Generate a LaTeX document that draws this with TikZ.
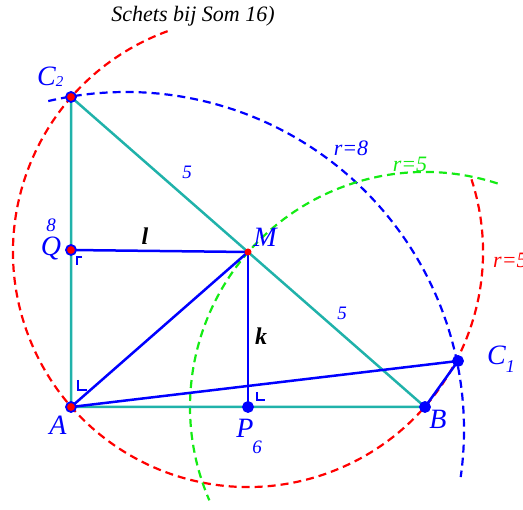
\documentclass[tikz,border=0pt]{standalone}
\usepackage{fontspec}
\setmainfont{Liberation Serif}
\definecolor{tealc}{RGB}{32,178,170}
\definecolor{grn}{RGB}{20,235,20}
\definecolor{blu}{RGB}{0,0,255}
\definecolor{rd}{RGB}{255,0,0}
\tikzset{
  dashc/.style={line width=2.2pt, dash pattern=on 8pt off 5pt},
  tealline/.style={draw=tealc, line width=2.5pt},
  blueline/.style={draw=blu, line width=2.5pt},
  anglemark/.style={draw=blu, line width=2pt},
  ptlab/.style={text=blu, font=\fontsize{28}{28}\selectfont\itshape, inner sep=0pt},
  numlab/.style={text=blu, font=\fontsize{19}{19}\selectfont\itshape, inner sep=0pt},
  seglab/.style={text=black, font=\fontsize{24}{24}\selectfont\bfseries\itshape, inner sep=0pt},
  rlab/.style={font=\fontsize{22}{22}\selectfont\itshape, inner sep=0pt},
  ptred/.style={circle, draw=blu, fill=rd, line width=1.8pt, minimum size=10pt, inner sep=0pt},
  ptblue/.style={circle, draw=blu, fill=blu, line width=1.8pt, minimum size=10pt, inner sep=0pt},
  ptm/.style={circle, fill=rd, minimum size=7pt, inner sep=0pt},
}
\begin{document}
\begin{tikzpicture}[x=1pt,y=-1pt]
\useasboundingbox (0,0) rectangle (523,510);
\clip (0,0) rectangle (523,510);
% points
\coordinate (A) at (71,407);
\coordinate (B) at (425,407);
\coordinate (C2) at (71,97);
\coordinate (M) at (248,252);
\coordinate (Q) at (71,250);
\coordinate (P) at (248,407);
\coordinate (C1) at (458,361);
\coordinate (O8) at (126,430);
% dashed circles
\draw[dashc, rd] (M) ++(-110:235) arc[start angle=-110, end angle=-378, radius=235];
\draw[dashc, blu] (O8) ++(-103.3:338) arc[start angle=-103.3, end angle=8, radius=338];
\draw[dashc, grn] (B) ++(-72:235) arc[start angle=-72, end angle=-203.4, radius=235];
% triangle
\draw[tealline] (A) -- (C2) -- (B) -- cycle;
% blue segments
\draw[blueline] (Q) -- (M);
\draw[blueline] (M) -- (P);
\draw[blueline] (A) -- (M);
\draw[blueline] (A) -- (C1);
\draw[blueline] (B) -- (C1);
% right angle marks
\draw[anglemark] (78,380) -- (78,390) -- (87,390);
\draw[anglemark] (257,392) -- (257,400) -- (265,400);
\draw[anglemark] (82,257) -- (77,257) -- (77,265);
% point markers
\node[ptred] (dA) at (A) {};
\node[ptred] (dC2) at (C2) {};
\node[ptred] (dQ) at (Q) {};
\node[ptblue] (dB) at (B) {};
\node[ptblue] (dC1) at (C1) {};
\node[ptblue] (dP) at (P) {};
\node[ptm] (dM) at (M) {};
% labels
\node[font=\fontsize{22}{22}\selectfont\itshape, inner sep=0pt] (title) at (193,16) {Schets bij Som 16)};
\node[ptlab, anchor=base west] (lC2) at (37,86) {C\raisebox{-1pt}{\fontsize{15}{15}\selectfont 2}};
\node[ptlab] (lQ) at (51,249) {Q};
\node[ptlab] (lM) at (265,237) {M};
\node[ptlab] (lA) at (58,425) {A};
\node[ptlab] (lB) at (438,419) {B};
\node[ptlab] (lP) at (245,428) {P};
\node[ptlab, anchor=base west] (lC1) at (487,365) {C\raisebox{-8pt}{\fontsize{18}{18}\selectfont 1}};
\node[numlab] (n8) at (51,225) {8};
\node[numlab] (n5a) at (187,172) {5};
\node[numlab] (n5b) at (342,313) {5};
\node[numlab] (n6) at (257,447) {6};
\node[seglab] (sl) at (145,236) {l};
\node[seglab] (sk) at (261,336) {k};
\node[rlab, text=blu] (r8) at (351,148) {r=8};
\node[rlab, text=grn] (r5g) at (410,164) {r=5};
\node[rlab, text=rd, anchor=west] (r5r) at (493,260) {r=5};
\end{tikzpicture}
\end{document}
